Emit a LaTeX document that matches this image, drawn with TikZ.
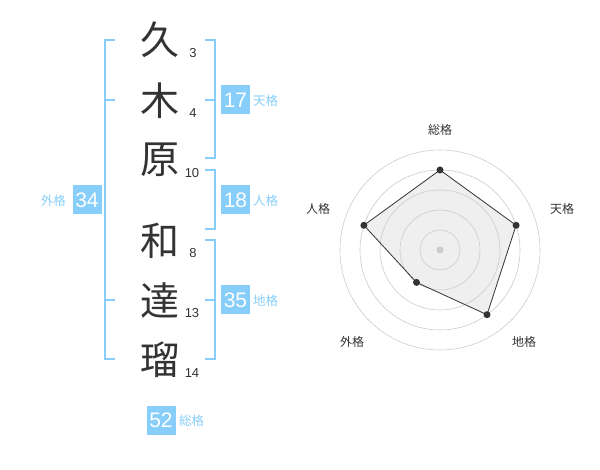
\documentclass[tikz,border=0pt]{standalone}
\usepackage{fontspec}
\setmainfont{Liberation Sans}
\newfontfamily\jp{Noto Sans CJK JP}
\definecolor{ink}{HTML}{333333}
\definecolor{sky}{HTML}{87CEFA}
\definecolor{ring}{HTML}{CCCCCC}
\definecolor{areafill}{HTML}{EFEFEF}
\tikzset{
  x=1pt, y=-1pt,
  kanji/.style={inner sep=0pt, text=ink, font=\jp\fontsize{39}{39}\selectfont},
  stroke/.style={inner sep=0pt, text=ink, font=\fontsize{13}{13}\selectfont},
  bracket/.style={draw=sky, line width=2pt},
  scorebox/.style={fill=sky, text=white, minimum width=29pt, minimum height=29pt, inner sep=0pt, font=\fontsize{21}{21}\selectfont},
  scorelabel/.style={text=sky, inner sep=0pt, font=\jp\fontsize{12.5}{12.5}\selectfont},
  axislabel/.style={text=ink, inner sep=0pt, font=\jp\fontsize{12}{12}\selectfont},
  ringline/.style={draw=ring, line width=0.6pt},
  datadot/.style={circle, fill=ink, inner sep=0pt, minimum size=7pt},
}
\begin{document}
\begin{tikzpicture}
\useasboundingbox (0,0) rectangle (600,470);

% characters
\node[kanji] (c1) at (160,40) {久};
\node[kanji] (c2) at (160,101) {木};
\node[kanji] (c3) at (160,160) {原};
\node[kanji] (c4) at (160,241) {和};
\node[kanji] (c5) at (160,301) {達};
\node[kanji] (c6) at (160,360) {瑠};

% stroke counts
\node[stroke] (s1) at (193,53) {3};
\node[stroke] (s2) at (193,113) {4};
\node[stroke] (s3) at (192,173) {10};
\node[stroke] (s4) at (193,253) {8};
\node[stroke] (s5) at (192,313) {13};
\node[stroke] (s6) at (192,373) {14};

% brackets
\draw[bracket] (115,40) -- (105,40) -- (105,359) -- (115,359);
\draw[bracket] (105,100) -- (115,100);
\draw[bracket] (105,300) -- (115,300);

\draw[bracket] (205,40) -- (215,40) -- (215,158) -- (205,158);
\draw[bracket] (205,100) -- (215,100);

\draw[bracket] (205,170) -- (215,170) -- (215,229) -- (205,229);

\draw[bracket] (205,240) -- (215,240) -- (215,359) -- (205,359);
\draw[bracket] (205,300) -- (215,300);

% score boxes
\node[scorebox] (ten) at (235.5,100) {17};
\node[scorelabel, anchor=west] (tenl) at (253,101) {天格};
\node[scorebox] (jin) at (235.5,200) {18};
\node[scorelabel, anchor=west] (jinl) at (253,201) {人格};
\node[scorebox] (chi) at (235.5,300) {35};
\node[scorelabel, anchor=west] (chil) at (253,301) {地格};
\node[scorebox] (gai) at (87,200) {34};
\node[scorelabel, anchor=east] (gail) at (66,201) {外格};
\node[scorebox] (sou) at (161,420) {52};
\node[scorelabel, anchor=west] (soul) at (179,421) {総格};

% radar chart
\coordinate (o) at (440,250);
\coordinate (p1) at (440,170);
\coordinate (p2) at (516.1,225.3);
\coordinate (p3) at (487.0,314.7);
\coordinate (p4) at (416.5,282.4);
\coordinate (p5) at (363.9,225.3);
\fill[areafill] (p1) -- (p2) -- (p3) -- (p4) -- (p5) -- cycle;
\foreach \r in {20,40,60,80,100} \draw[ringline] (o) circle[radius=\r];
\fill[ring] (o) circle[radius=3.5];
\draw[ink, line width=0.8pt] (p1) -- (p2) -- (p3) -- (p4) -- (p5) -- cycle;
\node[datadot] (d1) at (p1) {};
\node[datadot] (d2) at (p2) {};
\node[datadot] (d3) at (p3) {};
\node[datadot] (d4) at (p4) {};
\node[datadot] (d5) at (p5) {};

\node[axislabel] (a1) at (440,130) {総格};
\node[axislabel] (a2) at (562,209) {天格};
\node[axislabel] (a3) at (524,342) {地格};
\node[axislabel] (a4) at (352,342) {外格};
\node[axislabel] (a5) at (318,209) {人格};
\end{tikzpicture}
\end{document}
